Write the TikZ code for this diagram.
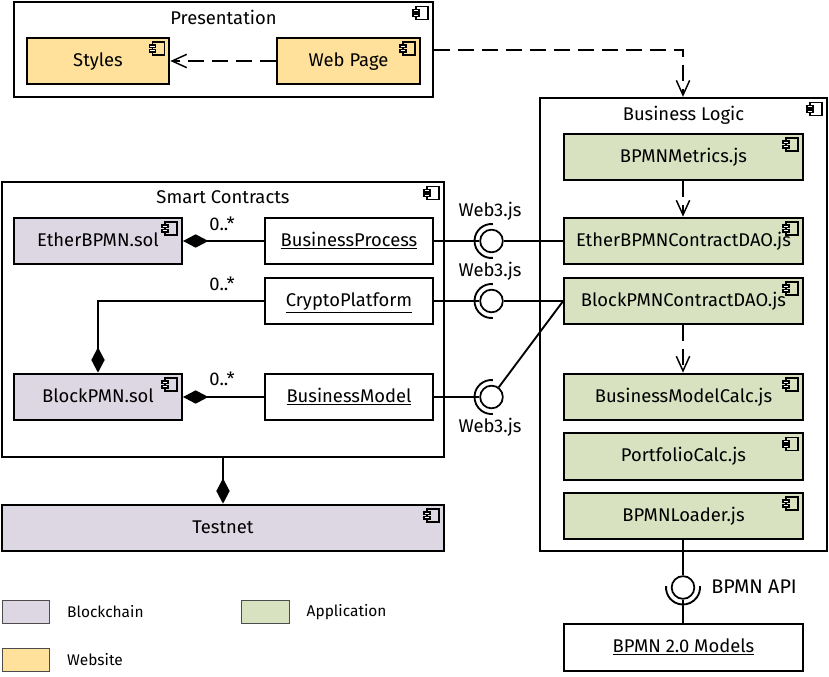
\documentclass[tikz,border=0pt]{standalone}
\usepackage{fontspec}
\setmainfont{Fira Sans}
\usetikzlibrary{arrows.meta,calc,positioning}
\definecolor{chainfill}{HTML}{DDD7E4}
\definecolor{appfill}{HTML}{D8E2C1}
\definecolor{webfill}{HTML}{FFE19B}
\tikzset{
  box/.style={draw=black, line width=1.5pt, minimum height=35pt, inner sep=0pt, text height=7.6pt, text depth=0pt, font=\fontsize{13.8}{16}\selectfont},
  frame/.style={draw=black, line width=1.5pt, inner sep=0pt},
  chain/.style={box, fill=chainfill, minimum width=126pt},
  app/.style={box, fill=appfill, minimum width=179pt},
  web/.style={box, fill=webfill, minimum width=107pt},
  item/.style={box, fill=white, minimum width=126pt},
  swatch/.style={draw=black!70, line width=0.9pt, minimum width=35.5pt, minimum height=17pt, inner sep=0pt},
  ball/.style={circle, draw=black, line width=1.3pt, minimum size=17pt, inner sep=0pt, fill=white},
  label/.style={font=\fontsize{13.8}{16}\selectfont, inner sep=0pt},
  small/.style={font=\fontsize{11.6}{14}\selectfont, inner sep=0pt},
  link/.style={line width=1.4pt},
  dep/.style={link, dash pattern=on 12pt off 6pt, -{Straight Barb[length=11pt,width=10pt,line width=1.1pt]}},
  has/.style={link, {Diamond[length=19pt,width=10pt]}-},
}
% component icon, top right of a node
\newcommand{\compicon}[1]{
  \draw[line width=1.2pt, fill=none] ($(#1.north east)+(-18,5.5)$) rectangle ++(12,13);
  \draw[line width=1.2pt, fill=white] ($(#1.north east)+(-21,8.5)$) rectangle ++(6,2.5);
  \draw[line width=1.2pt, fill=white] ($(#1.north east)+(-21,13)$) rectangle ++(6,2.5);
}
\newcommand{\socket}[2]{
  \draw[link] (#1) ++(#2+85:12.75pt) arc (#2+85:#2+275:12.75pt);
}
\begin{document}
\begin{tikzpicture}[x=0.75pt, y=-0.75pt]
  \useasboundingbox (0,0) rectangle (829,677);

  % Presentation
  \node[frame, minimum width=314pt, minimum height=71pt] (Presentation) at (223.5,49.5) {};
  \node[label, below=6.3pt of Presentation.north] (PresentationTitle) {Presentation};
  \node[web] (Styles) at (98,61) {Styles};
  \node[web] (WebPage) at (348.5,61) {Web Page};

  % Business Logic
  \node[frame, minimum width=215pt, minimum height=340pt] (Logic) at (683.5,324.5) {};
  \node[label, below=7pt of Logic.north] (LogicTitle) {Business Logic};
  \node[app] (Metrics) at (683.5,157) {BPMNMetrics.js};
  \node[app] (EtherDAO) at (683.5,241) {EtherBPMNContractDAO.js};
  \node[app] (BlockDAO) at (683.5,301) {BlockPMNContractDAO.js};
  \node[app] (ModelCalc) at (683.5,397) {BusinessModelCalc.js};
  \node[app] (Portfolio) at (683.5,456.5) {PortfolioCalc.js};
  \node[app] (Loader) at (683.5,516) {BPMNLoader.js};

  % Smart Contracts
  \node[frame, minimum width=331.5pt, minimum height=206pt] (Contracts) at (223,319.5) {};
  \node[label, below=7pt of Contracts.north] (ContractsTitle) {Smart Contracts};
  \node[chain] (EtherSol) at (98,241) {EtherBPMN.sol};
  \node[chain] (BlockSol) at (98,397) {BlockPMN.sol};
  \node[item] (Process) at (349,241) {\underline{BusinessProcess}};
  \node[item] (Crypto) at (349,301) {\underline{CryptoPlatform}};
  \node[item] (Model) at (349,397) {\underline{BusinessModel}};
  \node[chain, minimum width=331.5pt] (Testnet) at (223,528) {Testnet};
  \node[item, minimum width=179pt] (Models) at (683.5,647.5) {\underline{BPMN 2.0 Models}};

  % component icons
  \foreach \n in {Presentation,Styles,WebPage,Logic,Metrics,EtherDAO,BlockDAO,ModelCalc,Portfolio,Loader,Contracts,EtherSol,BlockSol,Testnet}
    {\compicon{\n}}

  % provided interfaces
  \node[ball] (BallA) at (491.5,241) {};
  \node[ball] (BallB) at (491.5,301) {};
  \node[ball] (BallC) at (491.5,397) {};
  \node[ball] (BallD) at (683,587.5) {};
  \node[label] (WebA) at (490,211) {Web3.js};
  \node[label] (WebB) at (490,271) {Web3.js};
  \node[label] (WebC) at (490,427) {Web3.js};
  \node[label, anchor=west, font=\fontsize{14.8}{16}\selectfont] (Api) at (711,587) {BPMN API};

  % multiplicities
  \node[label] (MultA) at (222,224) {0..*};
  \node[label] (MultB) at (222,284) {0..*};
  \node[label] (MultC) at (222,379) {0..*};

  % connectors
  \draw[dep] (WebPage) -- (Styles);
  \draw[dep] (Presentation.east |- 0,50) -| (BallD |- Logic.north);
  \draw[dep] (Metrics.south -| BallD) -- (EtherDAO.north -| BallD);
  \draw[dep] (BlockDAO.south -| BallD) -- (ModelCalc.north -| BallD);
  \draw[has] (EtherSol) -- (Process);
  \draw[has] (BlockSol) -- (Model);
  \draw[has] (BlockSol.north -| 98,0) |- (Crypto.west);
  \draw[has] (Testnet.north) -- (Contracts.south);
  \draw[link] (Process) -- (BallA.west);
  \draw[link] (Crypto) -- (BallB.west);
  \draw[link] (Model) -- (BallC.west);
  \draw[link] (BallA) -- (EtherDAO);
  \draw[link] (BallB) -- (BlockDAO);
  \draw[link] (BallC) -- (BlockDAO.west);
  \draw[link] (Loader.south -| BallD) -- (BallD);
  \draw[link] (BallD) -- (Models.north -| BallD);
  \foreach \n in {BallA,BallB,BallC} {\socket{\n}{0}}
  \socket{BallD}{90}

  % legend
  \node[swatch, fill=chainfill] (KeyChain) at (26,612) {};
  \node[small, right=12.5pt of KeyChain] (KeyChainText) {Blockchain};
  \node[swatch, fill=appfill] (KeyApp) at (265.5,612) {};
  \node[small, right=12.5pt of KeyApp] (KeyAppText) {Application};
  \node[swatch, fill=webfill] (KeyWeb) at (26,660) {};
  \node[small, right=12.5pt of KeyWeb] (KeyWebText) {Website};
\end{tikzpicture}
\end{document}
